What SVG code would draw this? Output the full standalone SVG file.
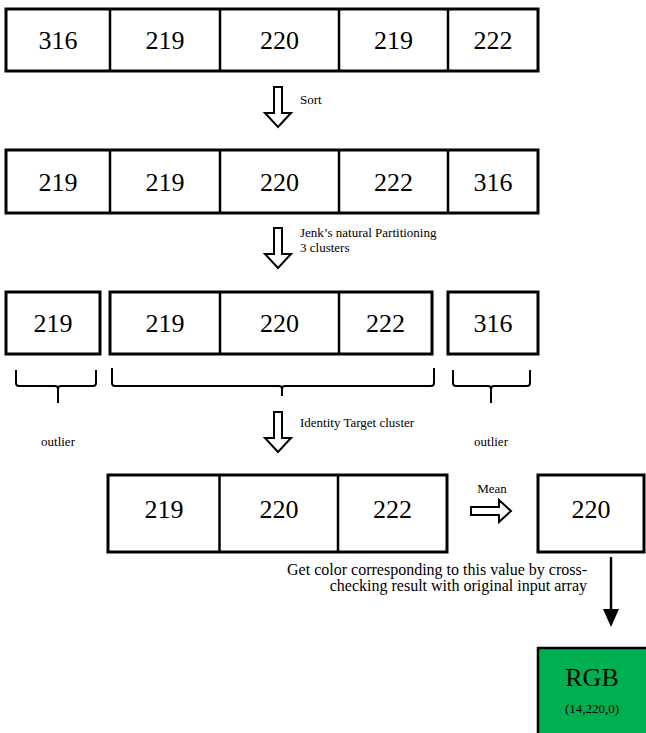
<svg xmlns="http://www.w3.org/2000/svg" width="646" height="733" viewBox="0 0 646 733">
<style>
.box{fill:#fff;stroke:#000;stroke-width:3}
.div{stroke:#000;stroke-width:2.5}
.num{font-family:"Liberation Serif","Times New Roman",serif;font-size:26px;text-anchor:middle;fill:#000}
.lbl{font-family:"Liberation Serif","Times New Roman",serif;font-size:13px;fill:#000}
.txt{font-family:"Liberation Serif","Times New Roman",serif;font-size:16px;fill:#000;text-anchor:end}
.hollow{fill:#fff;stroke:#000;stroke-width:2}
.brace{fill:none;stroke:#000;stroke-width:2}
</style>
<rect width="646" height="733" fill="#fff"/>
<g id="row1">
<rect class="box" x="6" y="9" width="532" height="62"/>
<line class="div" x1="110" y1="9" x2="110" y2="71"/>
<line class="div" x1="220" y1="9" x2="220" y2="71"/>
<line class="div" x1="339" y1="9" x2="339" y2="71"/>
<line class="div" x1="448" y1="9" x2="448" y2="71"/>
<text class="num" x="58" y="49">316</text>
<text class="num" x="165" y="49">219</text>
<text class="num" x="279.5" y="49">220</text>
<text class="num" x="393.5" y="49">219</text>
<text class="num" x="493" y="49">222</text>
</g>
<g id="row2">
<rect class="box" x="6" y="150" width="532" height="63"/>
<line class="div" x1="110" y1="150" x2="110" y2="213"/>
<line class="div" x1="220" y1="150" x2="220" y2="213"/>
<line class="div" x1="339" y1="150" x2="339" y2="213"/>
<line class="div" x1="448" y1="150" x2="448" y2="213"/>
<text class="num" x="58" y="191">219</text>
<text class="num" x="165" y="191">219</text>
<text class="num" x="279.5" y="191">220</text>
<text class="num" x="393.5" y="191">222</text>
<text class="num" x="493" y="191">316</text>
</g>
<g id="row3-outlier-left">
<rect class="box" x="6" y="292" width="94" height="62"/>
<text class="num" x="53" y="332">219</text>
</g>
<g id="row3-cluster">
<rect class="box" x="110" y="292" width="322" height="62"/>
<line class="div" x1="220" y1="292" x2="220" y2="354"/>
<line class="div" x1="339" y1="292" x2="339" y2="354"/>
<text class="num" x="165" y="332">219</text>
<text class="num" x="279.5" y="332">220</text>
<text class="num" x="385.5" y="332">222</text>
</g>
<g id="row3-outlier-right">
<rect class="box" x="448" y="292" width="90" height="62"/>
<text class="num" x="493" y="332">316</text>
</g>
<g id="braces">
<path class="brace" d="M16,370 V383 Q16,386 19,386 H55 Q58,386 58,389 V403 M58,389 Q58,386 61,386 H93 Q96,386 96,383 V370"/>
<path class="brace" d="M112,368 V383 Q112,386 115,386 H279 Q282,386 282,389 V396 M282,389 Q282,386 285,386 H431 Q434,386 434,383 V368"/>
<path class="brace" d="M453,370 V383 Q453,386 456,386 H488 Q491,386 491,389 V403 M491,389 Q491,386 494,386 H527 Q530,386 530,383 V370"/>
<text class="lbl" x="58" y="446" text-anchor="middle">outlier</text>
<text class="lbl" x="491" y="446" text-anchor="middle">outlier</text>
</g>
<g id="row4">
<rect class="box" x="108" y="475" width="339" height="77"/>
<line class="div" x1="219.5" y1="475" x2="219.5" y2="552"/>
<line class="div" x1="338" y1="475" x2="338" y2="552"/>
<text class="num" x="164" y="518">219</text>
<text class="num" x="279" y="518">220</text>
<text class="num" x="392.5" y="518">222</text>
</g>
<g id="mean-box">
<rect class="box" x="538" y="475" width="106" height="77"/>
<text class="num" x="591" y="518">220</text>
</g>
<g id="rgb">
<rect x="538" y="648" width="110" height="90" fill="#00B050" stroke="#000" stroke-width="2.5"/>
<text class="num" x="592" y="686">RGB</text>
<text x="592" y="713" text-anchor="middle" font-family="Liberation Serif, Times New Roman, serif" font-size="13">(14,220,0)</text>
</g>
<g id="connectors">
<path class="hollow" d="M274,87 H282 V113 H291 L278,127 L265,113 H274 Z"/>
<text class="lbl" x="300" y="104">Sort</text>
<path class="hollow" d="M274,228 H282 V254 H291 L278,268 L265,254 H274 Z"/>
<text class="lbl" x="300" y="237">Jenk’s natural Partitioning</text>
<text class="lbl" x="300" y="252">3 clusters</text>
<path class="hollow" d="M274,412 H282 V438 H291 L278,452 L265,438 H274 Z"/>
<text class="lbl" x="300" y="427">Identity Target cluster</text>
<path class="hollow" d="M471,507 H499 V500 L511,511 L499,522 V515 H471 Z"/>
<text class="lbl" x="492" y="493" text-anchor="middle">Mean</text>
<line x1="611" y1="557" x2="611" y2="610" stroke="#000" stroke-width="2.5"/>
<path d="M603,609 H619 L611,627 Z" fill="#000"/>
<text class="txt" x="587" y="575">Get color corresponding to this value by cross-</text>
<text class="txt" x="587" y="591">checking result with original input array</text>
</g>
</svg>
